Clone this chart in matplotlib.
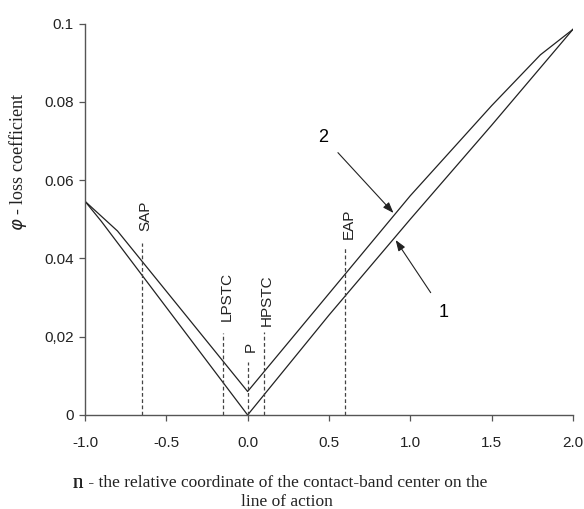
import matplotlib
matplotlib.use("Agg")
import matplotlib.pyplot as plt

# curve 1 (lower) and curve 2 (upper): loss coefficient vs. n
n1 = [-1.0, -0.9, -0.5, 0.0, 0.5, 1.0, 1.5, 2.0]
phi1 = [0.0546, 0.0495, 0.0275, 0.0, 0.0255, 0.050, 0.074, 0.0985]

n2 = [-1.0, -0.8, 0.0, 0.5, 1.0, 1.5, 1.8, 2.0]
phi2 = [0.0546, 0.047, 0.006, 0.031, 0.056, 0.079, 0.092, 0.0985]

# characteristic points on the line of action
mark_names = ["SAP", "LPSTC", "P", "HPSTC", "EAP"]
mark_n = [-0.65, -0.15, 0.0, 0.1, 0.6]
mark_top = [0.044, 0.021, 0.0135, 0.0212, 0.0427]
mark_text_y = [0.0508, 0.0304, 0.0174, 0.0294, 0.0488]

xticks = [-1.0, -0.5, 0.0, 0.5, 1.0, 1.5, 2.0]
xtick_labels = ["-1.0", "-0.5", "0.0", "0.5", "1.0", "1.5", "2.0"]
yticks = [0, 0.02, 0.04, 0.06, 0.08, 0.1]
ytick_labels = ["0", "0,02", "0.04", "0.06", "0.08", "0.1"]

sans = "Liberation Sans"
serif = "Liberation Serif"
ink = "#222222"

fig = plt.figure(figsize=(5.84, 5.09), dpi=100)
ax = fig.add_axes([0.1455, 0.1847, 0.8355, 0.7691])

ax.plot(n1, phi1, color=ink, lw=0.9)
ax.plot(n2, phi2, color=ink, lw=0.9)

for name, x, top, ty in zip(mark_names, mark_n, mark_top, mark_text_y):
    ax.plot([x, x], [0, top], color="#444444", lw=0.9, ls=(0, (3, 2)))
    ax.text(x + 0.02, ty, name, rotation=90, ha="center", va="center",
            fontsize=11, family=sans, color=ink)

# curve labels with arrows
arrow = dict(arrowstyle="-|>,head_length=0.5,head_width=0.18",
             color=ink, lw=0.8, shrinkA=7, shrinkB=0)
ax.annotate("2", xy=(0.897, 0.0516), xytext=(0.467, 0.071),
            fontsize=13, family=sans, ha="center", va="center", arrowprops=arrow)
ax.annotate("1", xy=(0.91, 0.0447), xytext=(1.205, 0.0263),
            fontsize=13, family=sans, ha="center", va="center", arrowprops=arrow)

ax.set_xlim(-1.0, 2.0)
ax.set_ylim(0, 0.1)
ax.set_xticks(xticks)
ax.set_xticklabels(xtick_labels, family=sans, fontsize=11, color=ink)
ax.set_yticks(yticks)
ax.set_yticklabels(ytick_labels, family=sans, fontsize=11, color=ink)
ax.tick_params(direction="out", length=4, width=0.9, color="#555555")
ax.tick_params(axis="x", pad=11)
ax.tick_params(axis="y", pad=4)

for side in ["top", "right"]:
    ax.spines[side].set_visible(False)
for side in ["left", "bottom"]:
    ax.spines[side].set_color("#555555")
    ax.spines[side].set_linewidth(1.0)

fig.text(0.031, 0.682, r"$\varphi$ - loss coefficient", rotation=90,
         ha="center", va="center", fontsize=13, family=serif, color=ink)

# x-axis title: larger "n" followed by the description
n_txt = fig.text(73 / 584, 1 - 483 / 509, "n", ha="left", va="center",
                 fontsize=15, family=serif, color=ink)
fig.add_artist(n_txt)
ax.annotate(" - the relative coordinate of the contact-band center on the",
            xy=(1.0, 0.5), xycoords=n_txt, ha="left", va="center",
            fontsize=12.5, family=serif, color=ink, annotation_clip=False)
fig.text(287 / 584, 1 - 502 / 509, "line of action", ha="center", va="center",
         fontsize=12.5, family=serif, color=ink)

fig.savefig("out.png", dpi=100)
